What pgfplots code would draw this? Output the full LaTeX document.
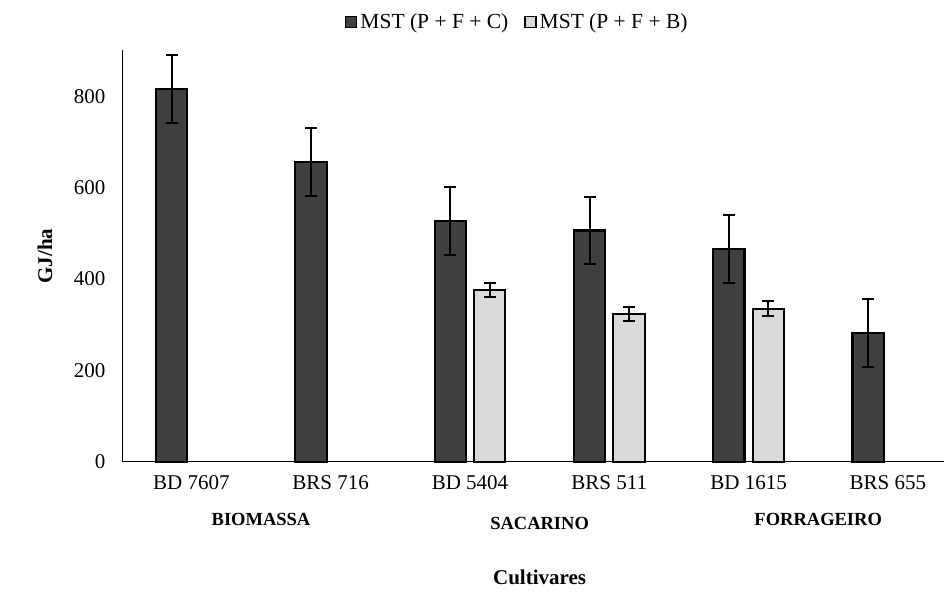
\documentclass[border=0pt]{standalone}
\usepackage{fontspec}
\setmainfont{Liberation Serif}
\usepackage{pgfplots}
\pgfplotsset{compat=1.18}
\definecolor{darkbar}{HTML}{404040}
\definecolor{lightbar}{HTML}{D9D9D9}
\begin{document}
\begin{tikzpicture}
\path[use as bounding box] (0pt,0pt) rectangle (944pt,594pt);
\begin{axis}[
  at={(122pt,132.3pt)}, anchor=south west,
  scale only axis, width=822pt, height=411.7pt,
  xmin=-0.498, xmax=5.403, ymin=0, ymax=901,
  axis x line=bottom, axis y line=left,
  axis line style={-, line width=0.9pt, black},
  ytick={0,200,400,600,800},
  xtick={0,1,2,3,4,5},
  xticklabels={BD 7607, BRS 716, BD 5404, BRS 511, BD 1615, BRS 655},
  major tick length=0pt,
  /pgf/number format/assume math mode=true,
  ticklabel style={font=\fontsize{21}{25}\selectfont},
  y tick label style={xshift=-13pt},
  x tick label style={yshift=-10pt},
  ybar, bar width=31.3pt,
  clip=false,
  legend columns=2,
  legend style={at={(axis description cs:0.481,1.068)}, anchor=center, draw=none, fill=none,
    font=\fontsize{21.5}{25}\selectfont, /tikz/every even column/.append style={column sep=14pt},
    /tikz/every odd column/.append style={column sep=1pt}},
  legend image code/.code={\draw[#1, line width=1.3pt] (0pt,-5.5pt) rectangle (11pt,5.5pt);},
]
\addplot[fill=darkbar, draw=black, line width=2.2pt, bar shift=-19.7pt,
  error bars/.cd, y dir=both, y explicit,
  error bar style={line width=2pt, black},
  error mark options={rotate=90, mark size=6pt, line width=2pt, black}]
  coordinates {(0,815) +- (0,74) (1,656) +- (0,74) (2,527) +- (0,74) (3,506) +- (0,74) (4,465) +- (0,75) (5,281) +- (0,74)};
\addlegendentry{MST (P + F + C)}
\addplot[fill=lightbar, draw=black, line width=2.2pt, bar shift=19.7pt,
  error bars/.cd, y dir=both, y explicit,
  error bar style={line width=2pt, black},
  error mark options={rotate=90, mark size=6pt, line width=2pt, black}]
  coordinates {(2,376) +- (0,16) (3,323) +- (0,16) (4,335) +- (0,16)};
\addlegendentry{MST (P + F + B)}
\node[font=\bfseries\fontsize{18.5}{22}\selectfont] at (axis cs:0.5,0) [yshift=-58pt] {BIOMASSA};
\node[font=\bfseries\fontsize{18.5}{22}\selectfont] at (axis cs:2.5,0) [yshift=-62pt] {SACARINO};
\node[font=\bfseries\fontsize{18.5}{22}\selectfont] at (axis cs:4.5,0) [yshift=-58pt] {FORRAGEIRO};
\node[font=\bfseries\fontsize{21}{25}\selectfont] at (axis cs:2.5,0) [yshift=-116pt] {Cultivares};
\end{axis}
\node[font=\bfseries\fontsize{21}{25}\selectfont, rotate=90] at (45pt,338pt) {GJ/ha};
\end{tikzpicture}
\end{document}
